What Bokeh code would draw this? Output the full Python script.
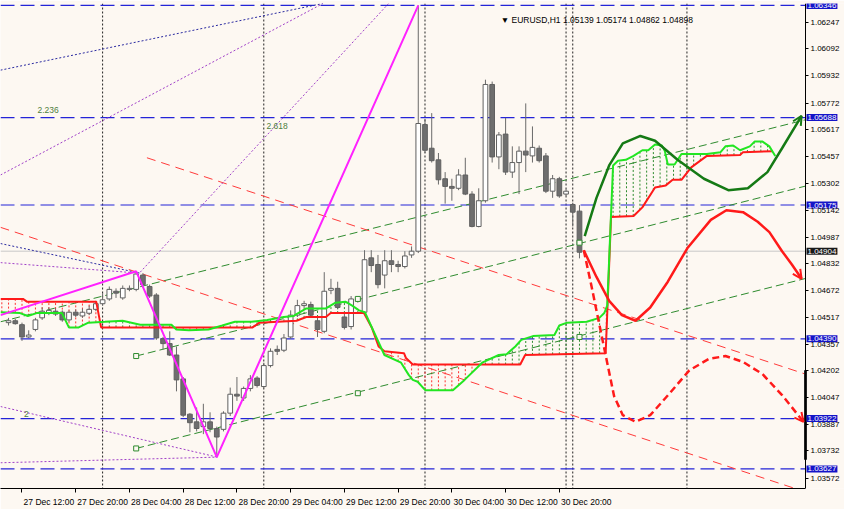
import numpy as np
from bokeh.plotting import figure
from bokeh.models import Range1d, FixedTicker, PrintfTickFormatter, Label, Span, Arrow, OpenHead, ColumnDataSource
from bokeh.core.properties import value
from bokeh.embed import file_html
from bokeh.resources import INLINE

# ---------------- data (x = hours since 27 Dec 2016 00:00, y = price) ----------------
bar_hour = list(range(10, 96))
bar_open = [1.04485, 1.04496, 1.04473, 1.04401, 1.04445, 1.04513, 1.04540, 1.04552, 1.04546, 1.04501,
            1.04546, 1.04524, 1.04540, 1.04563, 1.04596, 1.04624, 1.04669, 1.04630, 1.04680, 1.04680,
            1.04764, 1.04697, 1.04647, 1.04390, 1.04362, 1.04295, 1.04155, 1.03948, 1.03903, 1.03875,
            1.03903, 1.03864, 1.03859, 1.03954, 1.04065, 1.04043, 1.04099, 1.04160, 1.04110, 1.04233,
            1.04328, 1.04323, 1.04401, 1.04529, 1.04585, 1.04591, 1.04496, 1.04434, 1.04675, 1.04686,
            1.04518, 1.04462, 1.04613, 1.04546, 1.04865, 1.04826, 1.04764, 1.04848, 1.04826, 1.04814,
            1.04882, 1.04904, 1.05647, 1.05508, 1.05440, 1.05329, 1.05284, 1.05273, 1.05351, 1.05239,
            1.05049, 1.05200, 1.05882, 1.05457, 1.05591, 1.05368, 1.05424, 1.05491, 1.05463, 1.05508,
            1.05463, 1.05256, 1.05329, 1.05239, 1.05178, 1.05139]
bar_high = [1.04513, 1.04507, 1.04485, 1.04440, 1.04513, 1.04574, 1.04574, 1.04568, 1.04557, 1.04557,
            1.04563, 1.04568, 1.04585, 1.04613, 1.04658, 1.04697, 1.04686, 1.04703, 1.04703, 1.04786,
            1.04775, 1.04708, 1.04658, 1.04401, 1.04434, 1.04345, 1.04166, 1.03954, 1.03987, 1.04009,
            1.03959, 1.03875, 1.03965, 1.04104, 1.04166, 1.04110, 1.04177, 1.04171, 1.04250, 1.04334,
            1.04351, 1.04418, 1.04557, 1.04619, 1.04613, 1.04608, 1.04513, 1.04781, 1.04742, 1.04725,
            1.04541, 1.04641, 1.04635, 1.04910, 1.04910, 1.04882, 1.04910, 1.04910, 1.04848, 1.04904,
            1.04932, 1.06346, 1.05680, 1.05714, 1.05480, 1.05368, 1.05329, 1.05385, 1.05452, 1.05256,
            1.05273, 1.05910, 1.05899, 1.05603, 1.05686, 1.05519, 1.05519, 1.05771, 1.05636, 1.05524,
            1.05480, 1.05351, 1.05340, 1.05267, 1.05189, 1.05174]
bar_low = [1.04468, 1.04473, 1.04378, 1.04395, 1.04434, 1.04501, 1.04529, 1.04524, 1.04490, 1.04490,
           1.04518, 1.04513, 1.04529, 1.04552, 1.04585, 1.04613, 1.04630, 1.04619, 1.04669, 1.04669,
           1.04697, 1.04630, 1.04384, 1.04328, 1.04289, 1.04082, 1.03931, 1.03842, 1.03847, 1.03831,
           1.03842, 1.03696, 1.03847, 1.03937, 1.04026, 1.04026, 1.04082, 1.04104, 1.04099, 1.04222,
           1.04295, 1.04312, 1.04390, 1.04518, 1.04563, 1.04513, 1.04401, 1.04423, 1.04652, 1.04563,
           1.04445, 1.04445, 1.04602, 1.04535, 1.04781, 1.04686, 1.04686, 1.04781, 1.04781, 1.04803,
           1.04865, 1.04893, 1.05480, 1.05424, 1.05295, 1.05183, 1.05200, 1.05262, 1.05233, 1.05044,
           1.05044, 1.05189, 1.05424, 1.05385, 1.05351, 1.05334, 1.05239, 1.05368, 1.05424, 1.05424,
           1.05245, 1.05217, 1.05217, 1.05228, 1.05049, 1.04862]
bar_close = [1.04496, 1.04479, 1.04401, 1.04412, 1.04501, 1.04552, 1.04557, 1.04535, 1.04501, 1.04546,
             1.04529, 1.04546, 1.04563, 1.04596, 1.04619, 1.04680, 1.04658, 1.04686, 1.04686, 1.04770,
             1.04708, 1.04641, 1.04395, 1.04362, 1.04295, 1.04149, 1.03942, 1.03898, 1.03864, 1.03903,
             1.03864, 1.03814, 1.03954, 1.04065, 1.04054, 1.04099, 1.04155, 1.04116, 1.04233, 1.04317,
             1.04317, 1.04395, 1.04529, 1.04585, 1.04596, 1.04529, 1.04445, 1.04669, 1.04686, 1.04574,
             1.04457, 1.04624, 1.04624, 1.04854, 1.04820, 1.04708, 1.04848, 1.04826, 1.04814, 1.04876,
             1.04904, 1.05653, 1.05496, 1.05435, 1.05323, 1.05284, 1.05273, 1.05351, 1.05239, 1.05049,
             1.05200, 1.05882, 1.05457, 1.05586, 1.05368, 1.05424, 1.05491, 1.05468, 1.05513, 1.05435,
             1.05256, 1.05329, 1.05228, 1.05256, 1.05133, 1.04898]

# Ichimoku cloud borders
kumo_red_h = [8.8, 12.15, 12.73, 23.05, 23.78, 46.33, 47.35, 52.87, 54.33, 57.24, 57.96, 62.91, 64.07,
              65.09, 65.96, 68.87, 69.16, 70.18, 86.18, 86.91, 98.9, 99.7, 103.05, 104.36, 106.25,
              107.85, 108.87, 110.18, 111.64, 113.96, 118.91, 119.35, 123.71]
kumo_red_p = [1.04624, 1.04624, 1.04608, 1.04608, 1.04457, 1.04457, 1.04485, 1.04496, 1.04518, 1.04518,
              1.04541, 1.04541, 1.04457, 1.04345, 1.04317, 1.04306, 1.04278, 1.04239, 1.04239, 1.04295,
              1.04306, 1.05105, 1.05111, 1.05161, 1.05278, 1.05290, 1.05323, 1.05323, 1.05396, 1.05463,
              1.05468, 1.05485, 1.05491]
kumo_green_h = [8.8, 11.71, 12.87, 14.18, 17.96, 18.98, 20.44, 21.89, 24.36, 26.98, 29.6, 34.25, 34.98,
                36.87, 39.78, 41.82, 43.71, 46.18, 48.51, 50.98, 52.44, 54.33, 57.24, 58.69, 60.15,
                61.16, 62.18, 63.05, 65.96, 68.44, 69.6, 70.18, 70.91, 72.07, 76.15, 77.89, 80.51,
                82.98, 84.15, 85.45, 86.33, 88.07, 91.27, 92.0, 93.16, 96.07, 97.96, 98.69, 99.13,
                100.0, 100.73, 101.89, 103.05, 104.36, 105.24, 106.25, 107.27, 107.71, 108.15, 109.16,
                110.18, 113.96, 116.0, 116.73, 117.89, 118.91, 120.36, 121.09, 122.25, 123.27, 124.15]
kumo_green_p = [1.04546, 1.04541, 1.04524, 1.04541, 1.04541, 1.04457, 1.04457, 1.04485, 1.04490, 1.04496,
                1.04473, 1.04473, 1.04445, 1.04440, 1.04445, 1.04468, 1.04490, 1.04490, 1.04501, 1.04518,
                1.04524, 1.04568, 1.04568, 1.04602, 1.04608, 1.04585, 1.04557, 1.04546, 1.04295, 1.04250,
                1.04177, 1.04149, 1.04138, 1.04088, 1.04088, 1.04149, 1.04250, 1.04295, 1.04300, 1.04345,
                1.04384, 1.04406, 1.04412, 1.04468, 1.04485, 1.04490, 1.04513, 1.04541, 1.04585, 1.05407,
                1.05435, 1.05440, 1.05463, 1.05496, 1.05496, 1.05530, 1.05524, 1.05491, 1.05413, 1.05413,
                1.05474, 1.05474, 1.05485, 1.05519, 1.05524, 1.05496, 1.05519, 1.05547, 1.05547, 1.05519,
                1.05463]

# ZigZag
zz_h = [8.8, 29, 41, 71]
zz_p = [1.04529, 1.04786, 1.03696, 1.06346]

# horizontal levels
level_prices = [1.06346, 1.05688, 1.05175, 1.04390, 1.03922, 1.03627]
level_labels = ["1.06346", "1.05688", "1.05175", "1.04390", "1.03922", "1.03627"]
last_price = 1.04904
last_label = "1.04904"

# vertical dotted lines
vline_hours = [24, 48, 72, 93, 94, 111]

# green regression channel (start/end points)
gch_h0 = [8.8, 29, 29]
gch_p0 = [1.04490, 1.04289, 1.03747]
gch_h1 = [128.65, 128.65, 128.65]
gch_p1 = [1.05675, 1.05286, 1.04744]
anchor_h = [29, 62, 95, 29, 62, 95]
anchor_p = [1.04289, 1.04624, 1.04954, 1.03747, 1.04071, 1.04401]

# red dashed channel
rch_h0 = [30.6, 8.8]
rch_p0 = [1.05452, 1.05044]
rch_h1 = [128.65, 128.65]
rch_p1 = [1.04183, 1.03492]

# dotted fan lines
fan_blue_h0 = [8.8, 8.8]
fan_blue_p0 = [1.05966, 1.04949]
fan_blue_h1 = [56.8, 29.6]
fan_blue_p1 = [1.06357, 1.04775]
fan_purple_h0 = [8.8, 29.6, 8.8, 8.8, 8.8]
fan_purple_p0 = [1.05351, 1.04781, 1.04837, 1.03993, 1.03663]
fan_purple_h1 = [56.8, 66.98, 29.6, 41.1, 41.1]
fan_purple_p1 = [1.06357, 1.06374, 1.04775, 1.03696, 1.03696]

# forecast curves
fc_green_h = [95.78, 97.53, 99.42, 101.45, 104.07, 106.25, 109.6, 113.53, 117.16, 120.07, 122.98, 125.16, 128.07]
fc_green_p = [1.04993, 1.05217, 1.05407, 1.05536, 1.05580, 1.05552, 1.05440, 1.05329, 1.05262, 1.05273,
              1.05368, 1.05508, 1.05698]
fc_red_h = [95.64, 97.53, 99.42, 101.31, 103.35, 105.53, 108.15, 111.05, 114.55, 116.87, 119.35, 121.53,
            123.27, 125.16, 126.62, 128.07]
fc_red_p = [1.04909, 1.04753, 1.04613, 1.04529, 1.04496, 1.04574, 1.04725, 1.04921, 1.05088, 1.05144,
            1.05133, 1.05077, 1.05016, 1.04904, 1.04826, 1.04742]
fc_redd_h = [95.64, 96.8, 97.96, 98.98, 100.15, 101.45, 103.35, 105.53, 108.44, 111.35, 114.25, 116.73,
             119.35, 122.25, 125.16, 128.36]
fc_redd_p = [1.04909, 1.04697, 1.04473, 1.04278, 1.04054, 1.03942, 1.03903, 1.03942, 1.04071, 1.04205,
             1.04272, 1.04289, 1.04255, 1.04183, 1.04060, 1.03903]

# axis ticks
price_ticks = [1.06247, 1.06092, 1.05932, 1.05772, 1.05617, 1.05457, 1.05302, 1.05142, 1.04987, 1.04832,
               1.04672, 1.04517, 1.04357, 1.04202, 1.04047, 1.03887, 1.03732, 1.03572]
time_ticks = [12, 20, 28, 36, 44, 52, 60, 68, 76, 84, 92]
time_labels = ["27 Dec 12:00", "27 Dec 20:00", "28 Dec 04:00", "28 Dec 12:00", "28 Dec 20:00",
               "29 Dec 04:00", "29 Dec 12:00", "29 Dec 20:00", "30 Dec 04:00", "30 Dec 12:00", "30 Dec 20:00"]

# visible chart window (hours) and the price-scale marker band
chart_start = 8.8
chart_end = 128.65
scale_band = [1.03680, 1.04205]

fib_texts = ["2.236", "2.618", "2"]
fib_h = [14.3, 48.4, 12.3]
fib_p = [1.05731, 1.05641, 1.03948]

header_text = "\u25bc EURUSD,H1  1.05139 1.05174 1.04862 1.04898"

# ---------------- figure ----------------
BG = "#FDF8F2"
FONT = "Liberation Sans"
FS = "8px"
W, H = 844, 509
axis_px = 39                      # room kept for the price scale, inside the frame
px_per_hour = (W - axis_px) / (chart_end - chart_start)
x_max = chart_start + W / px_per_hour

p = figure(width=W, height=H, output_backend="svg", toolbar_location=None,
           x_range=Range1d(chart_start, x_max), y_range=Range1d(1.03512, 1.06357),
           y_axis_location="right", background_fill_color=BG, border_fill_color=BG,
           min_border_left=0, min_border_top=3, min_border_bottom=0, min_border_right=0)
p.grid.visible = False
p.outline_line_color = None

# price axis drawn at the chart's right edge
ya = p.yaxis[0]
ya.fixed_location = chart_end
ya.ticker = FixedTicker(ticks=price_ticks)
ya.formatter = PrintfTickFormatter(format="%.5f")
ya.major_tick_out = 3
ya.major_tick_in = 0
ya.minor_tick_line_color = None
ya.major_label_standoff = 2
ya.major_label_text_font = FONT
ya.major_label_text_font_size = FS
ya.major_label_text_color = "#000000"
ya.axis_line_color = "#000000"

xa = p.xaxis[0]
center_offset = 4
xa.bounds = (chart_start, chart_end)
xa.ticker = FixedTicker(ticks=[t + center_offset for t in time_ticks], minor_ticks=time_ticks)
xa.major_label_overrides = {t + center_offset: lab for t, lab in zip(time_ticks, time_labels)}
xa.major_tick_line_color = None
xa.minor_tick_out = 4
xa.minor_tick_in = 0
xa.minor_tick_line_color = "#000000"
xa.major_label_standoff = 2
xa.major_label_text_font = FONT
xa.major_label_text_font_size = "8.5px"
xa.major_label_text_color = "#000000"
xa.axis_line_color = "#000000"

# vertical dotted separators
for h in vline_hours:
    p.add_layout(Span(location=h, dimension="height", line_color="#222222", line_dash="2 2",
                      line_width=1, level="underlay"))

# last price line and horizontal levels (end at the price scale)
p.segment(x0=[chart_start], y0=[last_price], x1=[chart_end], y1=[last_price], line_color="#C8C8C8", line_width=1)
n_lv = len(level_prices)
p.segment(x0=[chart_start] * n_lv, y0=level_prices, x1=[chart_end] * n_lv, y1=level_prices,
          line_color="#2424D8", line_dash="14 6", line_width=1.2)

# Ichimoku hatch
hx = np.arange(9, 125)
lo_lim = max(kumo_red_h[0], kumo_green_h[0])
hi_lim = min(kumo_red_h[-1], kumo_green_h[-1])
hx = hx[(hx >= lo_lim) & (hx <= hi_lim)]
ra = np.interp(hx, kumo_red_h, kumo_red_p)
ga = np.interp(hx, kumo_green_h, kumo_green_p)
hatch_col = np.where(ra > ga, "#FF3030", "#2E8B2E")
p.segment(x0=hx, y0=np.minimum(ra, ga), x1=hx, y1=np.maximum(ra, ga),
          line_color=hatch_col, line_dash="2 2", line_width=1)

# channels
p.segment(x0=gch_h0, y0=gch_p0, x1=gch_h1, y1=gch_p1, line_color="#2E8B2E", line_dash="8 4", line_width=1)
p.segment(x0=rch_h0, y0=rch_p0, x1=rch_h1, y1=rch_p1, line_color="#FF3A3A", line_dash="9 6", line_width=1)
p.segment(x0=fan_blue_h0, y0=fan_blue_p0, x1=fan_blue_h1, y1=fan_blue_p1, line_color="#2A2AA0",
          line_dash="2 2", line_width=1)
p.segment(x0=fan_purple_h0, y0=fan_purple_p0, x1=fan_purple_h1, y1=fan_purple_p1, line_color="#A040C8",
          line_dash="2 2", line_width=1)

# candles
o = np.array(bar_open); c = np.array(bar_close)
up = c >= o
src = ColumnDataSource(dict(x=bar_hour, hi=bar_high, lo=bar_low,
                            top=np.maximum(o, c), bot=np.minimum(o, c),
                            fill=np.where(up, "#FFFFFF", "#6E6E6E")))
p.segment(x0="x", y0="lo", x1="x", y1="hi", source=src, line_color="#6A6A6A", line_width=1)
p.vbar(x="x", top="top", bottom="bot", width=0.7, source=src, fill_color="fill", line_color="#606060",
       line_width=1)

# Ichimoku lines
p.line(kumo_red_h, kumo_red_p, line_color="#FF1A1A", line_width=2)
p.line(kumo_green_h, kumo_green_p, line_color="#22E622", line_width=2)

# anchor squares
p.scatter(anchor_h, anchor_p, marker="square", size=5, fill_color=BG, line_color="#2E8B2E", line_width=1)

# zigzag
p.line(zz_h, zz_p, line_color="#FF22FF", line_width=2)

# forecast curves
p.line(fc_green_h, fc_green_p, line_color="#157A15", line_width=2.5)
p.line(fc_red_h, fc_red_p, line_color="#FF1A1A", line_width=2.5)
p.line(fc_redd_h, fc_redd_p, line_color="#FF1A1A", line_width=2.5, line_dash="7 4")
for hh, pp, col in [(fc_green_h, fc_green_p, "#157A15"), (fc_red_h, fc_red_p, "#FF1A1A"),
                    (fc_redd_h, fc_redd_p, "#FF1A1A")]:
    p.add_layout(Arrow(end=OpenHead(line_color=col, line_width=2, size=9),
                       x_start=hh[-2], y_start=pp[-2], x_end=hh[-1], y_end=pp[-1],
                       line_color=col, line_width=2.5, line_alpha=0))

# marker band on the price scale
p.segment(x0=[chart_end], y0=[scale_band[0]], x1=[chart_end], y1=[scale_band[1]], line_color="#222222",
          line_width=3)

# fib texts
for t, hh, pp in zip(fib_texts, fib_h, fib_p):
    p.add_layout(Label(x=hh, y=pp, text=t, text_font=FONT, text_font_size="8.5px",
                       text_color="#4E7F3E", text_baseline="middle", text_align="left"))

# header
p.add_layout(Label(x=83.27, y=1.06262, text=header_text, text_font=FONT, text_font_size="8.5px",
                   text_color="#000000", text_baseline="middle", text_align="left"))

# price boxes on the price scale
p.text(x=[chart_end] * n_lv, y=level_prices, text=level_labels, x_offset=1,
       text_font=value(FONT), text_font_size=FS, text_color="#FFFFFF",
       text_baseline="middle", text_align="left",
       background_fill_color="#1414C8", padding=1)
p.text(x=[chart_end], y=[last_price], text=[last_label], x_offset=1,
       text_font=value(FONT), text_font_size=FS, text_color="#FFFFFF",
       text_baseline="middle", text_align="left",
       background_fill_color="#1A1A1A", padding=1)

open("out.html", "w").write(file_html(p, INLINE))
